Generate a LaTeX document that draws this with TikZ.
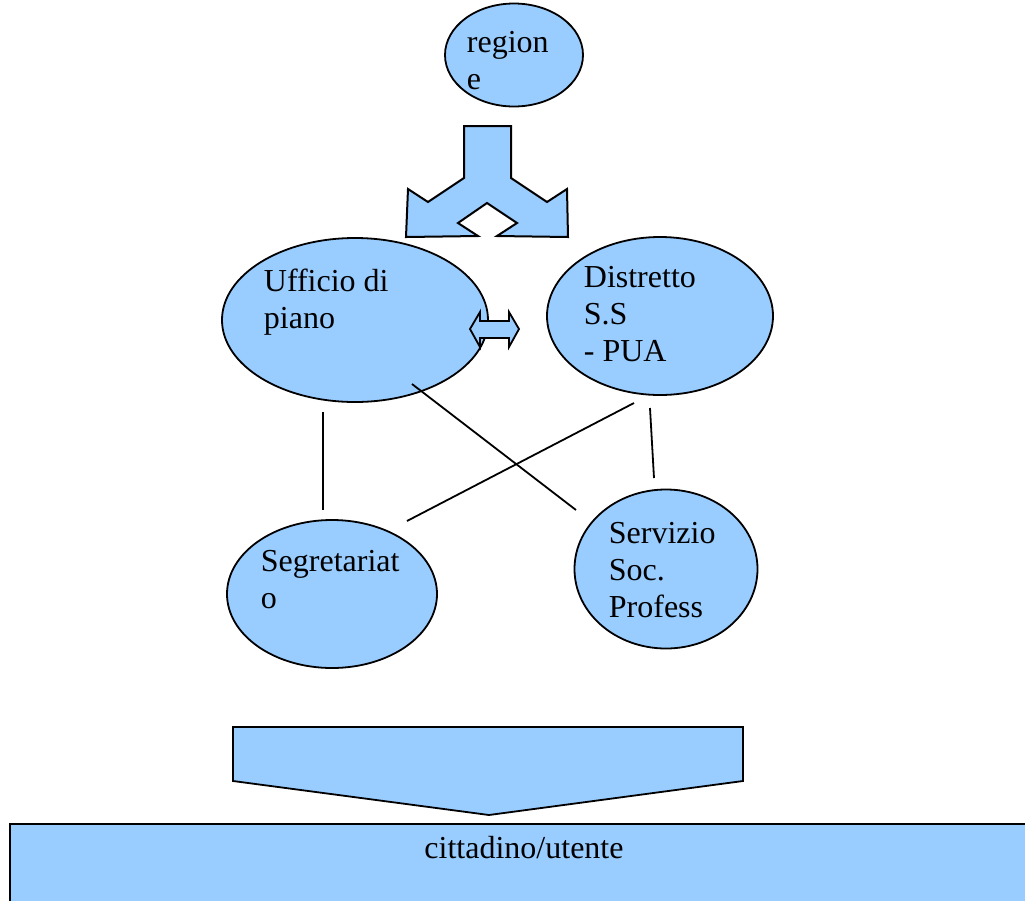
\documentclass[tikz,border=0pt]{standalone}
\usepackage{fontspec}
\setmainfont{Liberation Serif}
\usetikzlibrary{positioning,shapes.geometric}
\definecolor{paleblue}{HTML}{99CCFF}
\tikzset{
    chart/.style={x=0.5pt,y=-0.5pt,line width=0.9pt},
    blob/.style={ellipse,draw,fill=paleblue,inner sep=0pt},
    blobtext/.style={anchor=base west,align=left,inner sep=0pt,
                     font=\fontsize{16}{18.5}\selectfont},
    bigarrow/.style={draw,fill=paleblue,line width=1pt,line join=miter},
    }

\begin{document}
\begin{tikzpicture}[chart]
            \useasboundingbox (0,0) rectangle (1025,901);
            \clip (0,0) rectangle (1025,901);

            \node[blob, minimum width=69pt, minimum height=51.5pt] (reg) at (514,55) {};
            \node[blobtext] (regt) at (466,89) {region\\e};

            % fork arrow under the region
            \filldraw[bigarrow] (464,126) -- (511,126) -- (511,178) -- (547,202) -- (567,189)
                -- (568,237) -- (497,236) -- (517,223) -- (487,203) -- (458,223) -- (478,236)
                -- (406,237) -- (408,189) -- (428,202) -- (464,178) -- cycle;

            \node[blob, minimum width=133pt, minimum height=82pt] (uff) at (355,320) {};
            \node[blobtext] (ufft) at (263,328) {Ufficio di\\piano};
            \node[blob, minimum width=113pt, minimum height=79pt] (dist) at (660,316) {};
            \node[blobtext] (distt) at (583,361) {Distretto\\S.S\\- PUA};

            % double arrow between the two
            \filldraw[bigarrow, line width=0.9pt] (470,329) -- (480,312) -- (480,321) -- (509,321)
                -- (509,312) -- (519,329) -- (509,347) -- (509,338) -- (480,338) -- (480,347) -- cycle;

            \node[blob, minimum width=105pt, minimum height=74pt] (seg) at (332,594) {};
            \node[blobtext] (segt) at (260,608) {Segretariat\\o};
            \node[blob, minimum width=91.5pt, minimum height=79.5pt] (serv) at (666,569) {};
            \node[blobtext] (servt) at (608,617) {Servizio\\Soc.\\Profess};

            \coordinate (l1a) at (323,412); \coordinate (l1b) at (323,510);
            \coordinate (l2a) at (412,384); \coordinate (l2b) at (576,510);
            \coordinate (l3a) at (634,403); \coordinate (l3b) at (407,521);
            \coordinate (l4a) at (650,408); \coordinate (l4b) at (654,478);
            \draw (l1a) -- (l1b);
            \draw (l2a) -- (l2b);
            \draw (l3a) -- (l3b);
            \draw (l4a) -- (l4b);

            % arrow down to the citizen
            \filldraw[bigarrow, line width=0.9pt] (233,727) -- (743,727) -- (743,781) -- (489,815)
                -- (233,781) -- cycle;

            \filldraw[bigarrow] (10,824) rectangle (1040,920);
            \node[anchor=base, inner sep=0pt, font=\fontsize{16}{18.5}\selectfont] (citt) at (524,858) {cittadino/utente};
        \end{tikzpicture}
\end{document}
